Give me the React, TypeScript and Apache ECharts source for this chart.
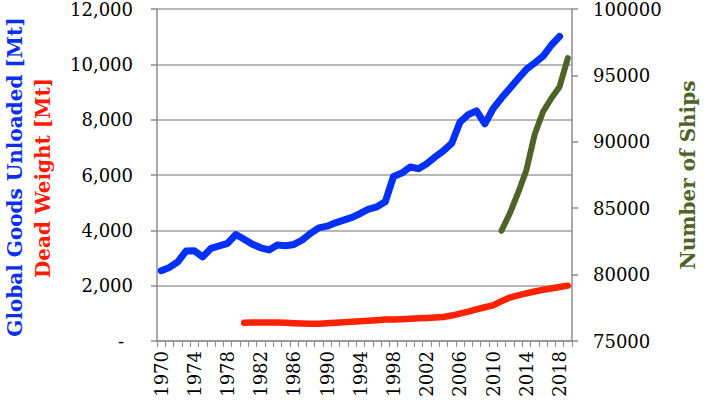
import React, { useEffect, useRef } from "react";
import * as echarts from "echarts";

const years: string[] = [
  "1970", "1971", "1972", "1973", "1974", "1975", "1976", "1977", "1978", "1979",
  "1980", "1981", "1982", "1983", "1984", "1985", "1986", "1987", "1988", "1989",
  "1990", "1991", "1992", "1993", "1994", "1995", "1996", "1997", "1998", "1999",
  "2000", "2001", "2002", "2003", "2004", "2005", "2006", "2007", "2008", "2009",
  "2010", "2011", "2012", "2013", "2014", "2015", "2016", "2017", "2018", "2019",
];

// Global Goods Unloaded [Mt], 1970–2018
const goodsUnloaded: (number | null)[] = [
  2540, 2660, 2860, 3250, 3260, 3040, 3350, 3440, 3530, 3850,
  3680, 3500, 3370, 3290, 3470, 3440, 3490, 3650, 3890, 4090,
  4150, 4270, 4370, 4470, 4610, 4770, 4850, 5030, 5950, 6070,
  6290, 6230, 6410, 6650, 6870, 7140, 7910, 8180, 8320, 7850,
  8400, 8780, 9130, 9480, 9820, 10050, 10290, 10690, 11010,
];

// Dead Weight [Mt], 1980–2019
const deadWeight: (number | null)[] = [
  null, null, null, null, null, null, null, null, null, null,
  660, 665, 668, 670, 672, 660, 645, 630, 620, 625,
  640, 660, 680, 700, 715, 730, 750, 775, 780, 790,
  805, 820, 835, 850, 870, 920, 990, 1060, 1140, 1220,
  1290, 1440, 1570, 1650, 1720, 1790, 1850, 1900, 1950, 2000,
];

// Number of Ships, 2011–2019
const numberOfShips: (number | null)[] = [
  null, null, null, null, null, null, null, null, null, null,
  null, null, null, null, null, null, null, null, null, null,
  null, null, null, null, null, null, null, null, null, null,
  null, null, null, null, null, null, null, null, null, null,
  null, 83300, 84600, 86150, 87860, 90550, 92250, 93260, 94150, 96300,
];

const leftTitle = "Global Goods Unloaded [Mt]";
const leftTitle2 = "Dead Weight [Mt]";
const rightTitle = "Number of Ships";

const FONT = "DejaVu Serif";
const AXIS_GRAY = "#8c8c8c";
const GRID_GRAY = "#a0a0a0";

export default function App() {
  const ref = useRef<HTMLDivElement>(null);

  useEffect(() => {
    if (!ref.current) return;
    const chart = echarts.init(ref.current, undefined, { renderer: "svg" });
    chart.setOption({
      animation: false,
      backgroundColor: "#ffffff",
      grid: { left: 157, right: 132, top: 9, bottom: 64 },
      xAxis: {
        type: "category",
        data: years,
        boundaryGap: true,
        axisLine: { lineStyle: { color: AXIS_GRAY, width: 1.5 } },
        axisTick: { show: true, interval: 0, length: 6, lineStyle: { color: AXIS_GRAY, width: 1 } },
        axisLabel: {
          interval: 3,
          rotate: 90,
          margin: 10,
          color: "#000",
          fontFamily: FONT,
          fontSize: 18,
        },
        splitLine: { show: false },
      },
      yAxis: [
        {
          type: "value",
          position: "left",
          min: 0,
          max: 12000,
          interval: 2000,
          axisLine: { show: true, lineStyle: { color: AXIS_GRAY, width: 1.5 } },
          axisTick: { show: true, length: 6, lineStyle: { color: AXIS_GRAY, width: 1.5 } },
          axisLabel: {
            margin: 24,
            color: "#000",
            fontFamily: FONT,
            fontSize: 18,
            formatter: (v: number) => (v === 0 ? "{z|-}" : v.toLocaleString("en-US")),
            rich: {
              z: { fontFamily: FONT, fontSize: 18, color: "#000", padding: [0, 9, 0, 0] },
            },
          },
          splitLine: { show: true, lineStyle: { color: GRID_GRAY, width: 1.5 } },
        },
        {
          type: "value",
          position: "right",
          min: 75000,
          max: 100000,
          interval: 5000,
          axisLine: { show: true, lineStyle: { color: AXIS_GRAY, width: 1.5 } },
          axisTick: { show: true, length: 6, lineStyle: { color: AXIS_GRAY, width: 1.5 } },
          axisLabel: {
            margin: 21,
            color: "#000",
            fontFamily: FONT,
            fontSize: 18,
            formatter: (v: number) => String(v),
          },
          splitLine: { show: false },
        },
      ],
      series: [
        {
          name: leftTitle,
          type: "line",
          yAxisIndex: 0,
          data: goodsUnloaded,
          showSymbol: false,
          symbol: "none",
          lineStyle: { color: "#0530fa", width: 7, cap: "round", join: "round" },
          z: 3,
        },
        {
          name: leftTitle2,
          type: "line",
          yAxisIndex: 0,
          data: deadWeight,
          showSymbol: false,
          symbol: "none",
          lineStyle: { color: "#ff2200", width: 6.5, cap: "round", join: "round" },
          z: 3,
        },
        {
          name: rightTitle,
          type: "line",
          yAxisIndex: 1,
          data: numberOfShips,
          showSymbol: false,
          symbol: "none",
          lineStyle: { color: "#4f6228", width: 6, cap: "round", join: "round" },
          z: 3,
        },
      ],
      graphic: [
        {
          type: "text",
          x: 15,
          y: 177,
          rotation: Math.PI / 2,
          style: {
            text: leftTitle,
            fill: "#0a2ff0",
            fontFamily: FONT,
            fontWeight: "bold",
            fontSize: 20,
            align: "center",
            verticalAlign: "middle",
          },
        },
        {
          type: "text",
          x: 43,
          y: 178,
          rotation: Math.PI / 2,
          style: {
            text: leftTitle2,
            fill: "#ff1a00",
            fontFamily: FONT,
            fontWeight: "bold",
            fontSize: 20,
            align: "center",
            verticalAlign: "middle",
          },
        },
        {
          type: "text",
          x: 688,
          y: 175,
          rotation: Math.PI / 2,
          style: {
            text: rightTitle,
            fill: "#4f6228",
            fontFamily: FONT,
            fontWeight: "bold",
            fontSize: 20,
            align: "center",
            verticalAlign: "middle",
          },
        },
      ],
    });
    return () => chart.dispose();
  }, []);

  return (
    <div
      ref={ref}
      style={{ width: 704, height: 405, position: "absolute", left: 0, top: 0 }}
    />
  );
}
